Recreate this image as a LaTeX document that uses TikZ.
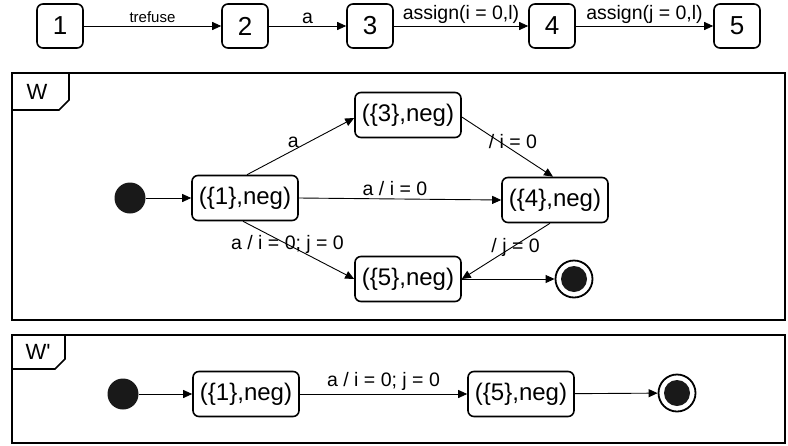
\documentclass[tikz,border=0pt]{standalone}
\usepackage{fontspec}
\setmainfont{Liberation Sans}
\usetikzlibrary{arrows.meta}
\begin{document}
\begin{tikzpicture}[x=1pt,y=-1pt,
  >={Triangle[length=9pt,width=8pt]},
  numbox/.style={draw, line width=1.6pt, rounded corners=6pt, minimum width=46pt,
    minimum height=44pt, inner sep=0pt, font=\fontsize{26}{30}\selectfont},
  state/.style={draw, line width=1.6pt, rounded corners=6pt, minimum width=106pt,
    minimum height=45pt, inner sep=0pt, font=\fontsize{24}{28}\selectfont},
  initdot/.style={circle, fill=black!90, minimum size=31pt, inner sep=0pt},
  finaldot/.style={circle, draw, line width=1.8pt, minimum size=37pt, inner sep=0pt,
    path picture={\fill[black!90] (path picture bounding box.center) circle (13pt);}},
  trans/.style={->, line width=0.9pt},
  lbl/.style={font=\fontsize{19.5}{22}\selectfont, inner sep=0pt},
  small/.style={font=\fontsize{15}{17}\selectfont, inner sep=0pt},
  frame/.style={line width=1.6pt},
  framelbl/.style={font=\fontsize{22}{25}\selectfont, inner sep=0pt}]
\useasboundingbox (0,0) rectangle (788,445);

% ---- trace of the process ----
\node[numbox] (b1) at (60,26) {1};
\node[numbox] (b2) at (245,26) {2};
\node[numbox] (b3) at (370,26) {3};
\node[numbox] (b4) at (552,26) {4};
\node[numbox] (b5) at (737,26) {5};
\draw[trans] (b1) -- node[small, midway, above=3pt] (l12) {trefuse} (b2);
\draw[trans] (b2) -- node[lbl, midway, above=2pt] (l23) {a} (b3);
\draw[trans] (b3) -- node[lbl, midway, above=2pt] (l34) {assign(i = 0,l)} (b4);
\draw[trans] (b4) -- node[lbl, midway, above=2pt] (l45) {assign(j = 0,l)} (b5);

% ---- frame W ----
\draw[frame] (12,73) rectangle (785,320);
\draw[frame] (12,110) -- (59,110) -- (69,100) -- (69,73);
\node[framelbl] (wname) at (37,92) {W};

\node[initdot] (i1) at (130,198) {};
\node[state] (s1) at (245,198) {(\{1\},neg)};
\node[state] (s3) at (408,115) {(\{3\},neg)};
\node[state] (s4) at (555,200) {(\{4\},neg)};
\node[state] (s5) at (408,279) {(\{5\},neg)};
\node[finaldot] (f1) at (574,279) {};

\draw[trans] (i1) -- (s1);
\draw[trans] ([xshift=2pt]s1.north) -- node[lbl, pos=0.45, anchor=south east, xshift=4pt, yshift=1pt] (la) {a} ([yshift=-3pt]s3.west);
\draw[trans] (s1.east) -- node[lbl, pos=0.475, above=3pt] (lb) {a / i = 0} (s4.west);
\draw[trans] ([yshift=-2pt]s3.east) -- node[lbl, pos=0.56, anchor=south, yshift=1pt] (lc) {/ i = 0} ([xshift=-2pt]s4.north);
\draw[trans] ([xshift=-2pt]s1.south) -- node[lbl, pos=0.4] (ld) {a / i = 0; j = 0} (s5.west);
\draw[trans] ([xshift=-5pt]s4.south) -- node[lbl, pos=0.39, yshift=-2pt] (le) {/ j = 0} (s5.east);
\draw[trans] (s5.east) -- (f1);

% ---- frame W' ----
\draw[frame] (12,335) rectangle (785,443);
\draw[frame] (12,369) -- (55,369) -- (65,359) -- (65,335);
\node[framelbl] (wpname) at (38,352) {W\textquotesingle};

\node[initdot] (i2) at (123,394) {};
\node[state] (t1) at (246,394) {(\{1\},neg)};
\node[state] (t5) at (521,394) {(\{5\},neg)};
\node[finaldot] (f2) at (677,393) {};

\draw[trans] (i2) -- (t1);
\draw[trans] (t1) -- node[lbl, midway, above=3pt] (lf) {a / i = 0; j = 0} (t5);
\draw[trans] (t5) -- (f2);
\end{tikzpicture}
\end{document}
